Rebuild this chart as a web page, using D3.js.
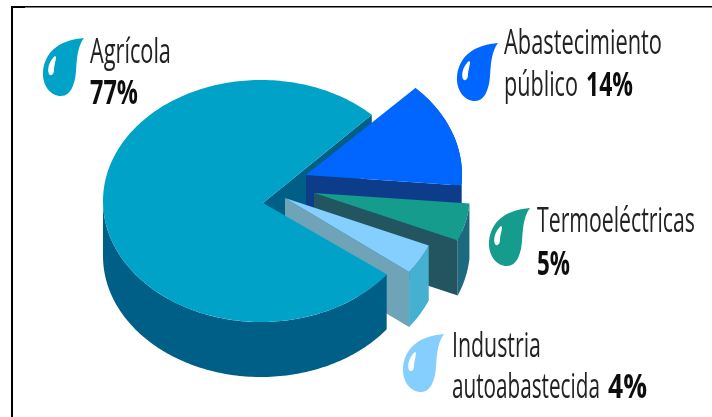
<!DOCTYPE html>
<html>
<head>
<meta charset="utf-8">
<script src="https://cdn.jsdelivr.net/npm/d3@7"></script>
<style>
  html, body { margin: 0; padding: 0; background: #fff; }
  svg { display: block; }
  text { font-family: "Open Sans", sans-serif; font-size: 34px; fill: #222; }
  .bold { font-weight: 700; fill: #111; }
</style>
</head>
<body>
<script>
// values, same order as they go round the pie (clockwise from the blue slice)
var categories = ['Abastecimiento público', 'Termoeléctricas', 'Industria autoabastecida', 'Agrícola'];
var values = [14, 5, 4, 77];

var topColors = ['#0066ff', '#149c8c', '#85cfff', '#00a3c7'];
var wallColors = ['#0a3d8a', '#225560', '#6ea3b8', '#005f86'];
var rimColors = ['#0a3d8a', '#1a6b80', '#44b0cf', '#005f86'];

// label pieces: text, width on the page, bold or not
var labelLines = [
    [[['Abastecimiento', 158, 0]], [['público', 74, 0], ['14%', 47, 1]]],
    [[['Termoeléctricas', 158, 0]], [['5%', 33, 1]]],
    [[['Industria', 89, 0]], [['autoabastecida', 148, 0], ['4%', 39, 1]]],
    [[['Agrícola', 81, 0]], [['77%', 48, 1]]]
];

var width = 712, height = 417;
var depth = 55;
var startDeg = 44.5;

// ellipse of each slice on the page
var centerX = [306, 314, 285, 261];
var centerY = [175, 193, 198, 201];
var radiusX = [156, 156, 156, 158];
var radiusY = [122, 122, 122, 121];
// wedge tip, the big slice's sits a little off its ellipse centre
var apexX = [306, 314, 285, 263];
var apexY = [175, 193, 198, 203];

var labelX = [504, 537, 452, 90];
var labelY = [[54, 96], [232, 275], [357, 398], [63, 104]];
var dropX = [457, 489, 403, 43];
var dropY = [43, 208, 334, 38];

var svg = d3.select('body').append('svg')
    .attr('width', width)
    .attr('height', height);

var defs = svg.append('defs');
defs.append('filter').attr('id', 'soft')
    .append('feGaussianBlur').attr('stdDeviation', 0.45);

// frame
svg.append('rect').attr('x', 11).attr('y', 6).attr('width', 701).attr('height', 1.5).attr('fill', '#000');
svg.append('rect').attr('x', 11).attr('y', 6).attr('width', 14).attr('height', 2).attr('fill', '#000');
svg.append('rect').attr('x', 11).attr('y', 6).attr('width', 2).attr('height', 411).attr('fill', '#000');

var root = svg.append('g').attr('filter', 'url(#soft)');

var pie = d3.pie().sort(null)
    .startAngle(startDeg * Math.PI / 180)
    .endAngle(startDeg * Math.PI / 180 + 2 * Math.PI);
var slices = pie(values);

var line = d3.line();

function px(i, a) {
    return centerX[i] + radiusX[i] * Math.sin(a);
}
function py(i, a) {
    return centerY[i] - radiusY[i] * Math.cos(a);
}

function arcPoints(i, a0, a1) {
    var n = Math.max(2, Math.ceil(Math.abs(a1 - a0) / 0.02));
    return d3.range(n + 1).map(function(k) {
        var a = a0 + (a1 - a0) * k / n;
        return [px(i, a), py(i, a)];
    });
}

function topFace(i, d) {
    return line([[apexX[i], apexY[i]]].concat(arcPoints(i, d.startAngle, d.endAngle))) + 'Z';
}

// radial wall going down from the edge at angle a
function wall(i, a) {
    var x = px(i, a), y = py(i, a);
    return line([[apexX[i], apexY[i]], [x, y], [x, y + depth], [apexX[i], apexY[i] + depth]]) + 'Z';
}

// outer rim between two angles
function rim(i, a0, a1) {
    var up = arcPoints(i, a0, a1);
    var down = up.map(function(p) { return [p[0], p[1] + depth]; }).reverse();
    return line(up.concat(down)) + 'Z';
}

var main = 3;
var mainD = slices[main];

// back wall of the big slice goes first, the rest sits on top of it
root.append('path').attr('d', wall(main, mainD.endAngle)).attr('fill', wallColors[main]);

[0, 1, 2].forEach(function(i) {
    var d = slices[i];
    root.append('path').attr('d', wall(i, d.endAngle)).attr('fill', wallColors[i]);
    root.append('path').attr('d', rim(i, d.startAngle, d.endAngle)).attr('fill', rimColors[i]);
    root.append('path').attr('d', topFace(i, d)).attr('fill', topColors[i]);
});

root.append('path')
    .attr('d', rim(main, mainD.startAngle, 1.5 * Math.PI))
    .attr('fill', rimColors[main]);
root.append('path').attr('d', topFace(main, mainD)).attr('fill', topColors[main]);

// water drops
var dropShape = 'M41,0C20,2 3,10 0,33C-1,48 8,58 18,58C28,58 32,46 33,33C34,18 35,8 41,0Z';
var dropShine = 'M10,20C6,24 4,32 6,36C8,39 11,36 11,32C11,28 13,22 13,19C13,18 11,18 10,20Z';

categories.forEach(function(c, i) {
    var g = root.append('g').attr('transform', 'translate(' + dropX[i] + ',' + dropY[i] + ')');
    g.append('path').attr('d', dropShape).attr('fill', topColors[i]);
    g.append('path').attr('d', dropShine).attr('fill', '#fff');

    labelLines[i].forEach(function(pieces, row) {
        var x = labelX[i];
        pieces.forEach(function(p) {
            var t = root.append('text')
                .attr('class', p[2] ? 'bold' : null)
                .text(p[0]);
            // no condensed font here, so squeeze the normal one to the width
            var sx = p[1] / t.node().getComputedTextLength();
            t.attr('transform', 'translate(' + x + ',' + labelY[i][row] + ') scale(' + sx + ',1)');
            x += p[1] + 8;
        });
    });
});
</script>
</body>
</html>
